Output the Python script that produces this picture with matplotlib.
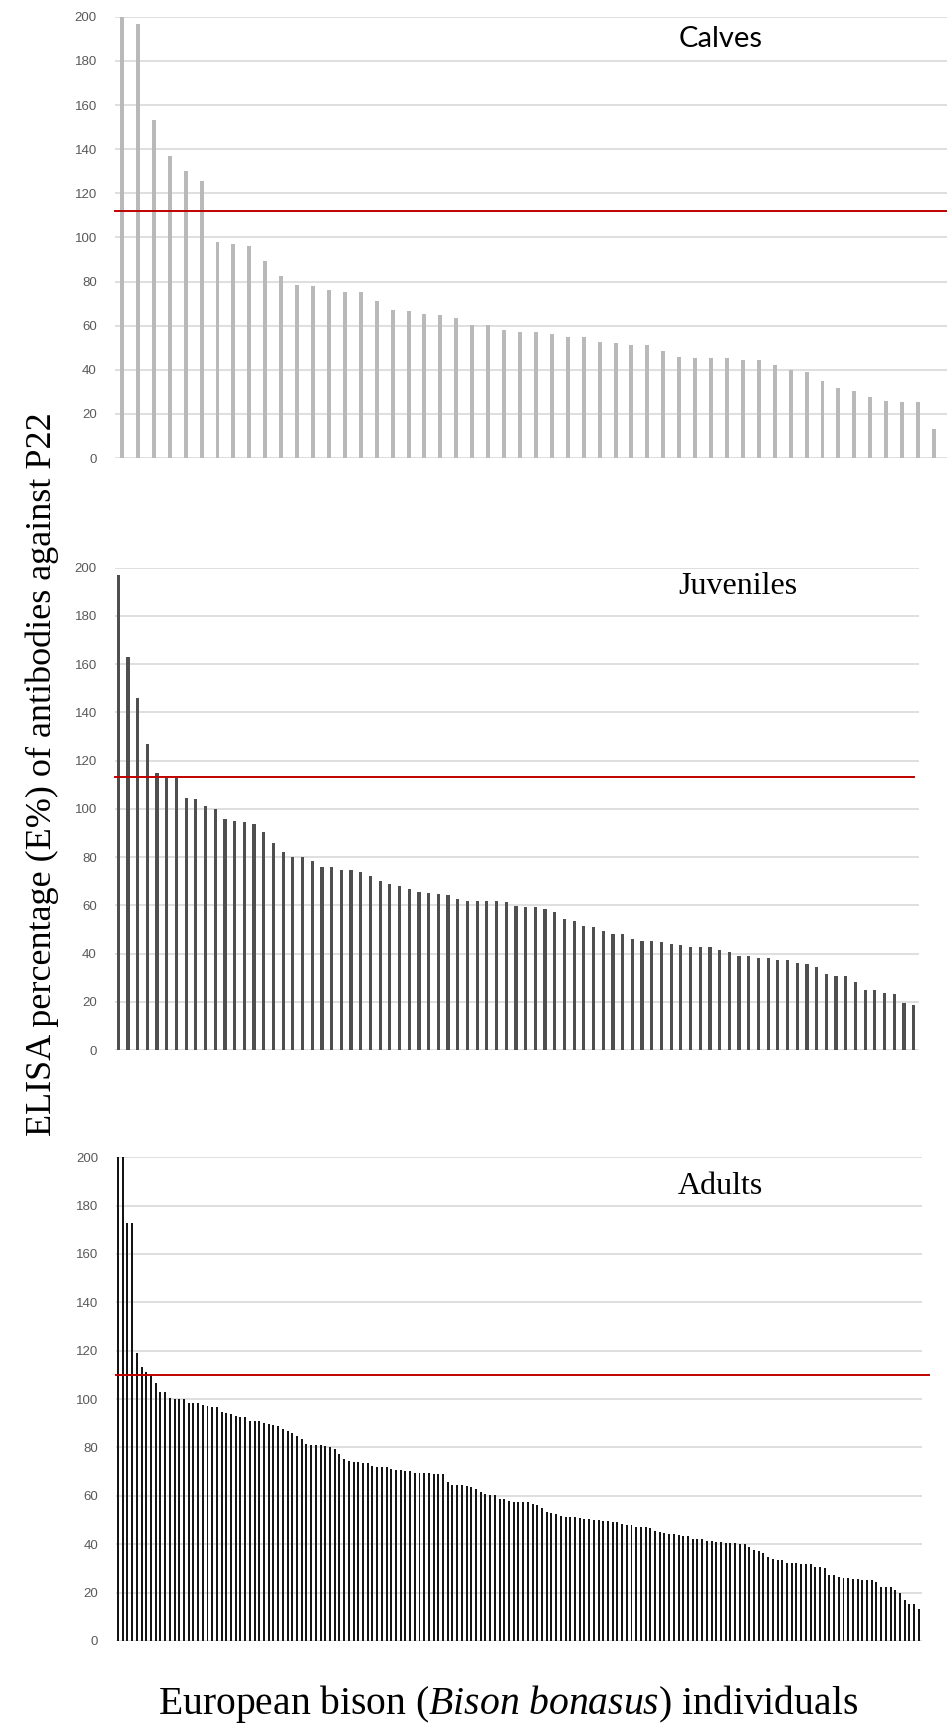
import numpy as np
import matplotlib.pyplot as plt

# ELISA E% values, sorted high to low
calves = [200, 196.5, 153.2, 137, 130, 125.6, 97.8, 96.9, 96.2, 89.2,
          82.6, 78.6, 78, 76, 75.3, 75.3, 71.1, 67.3, 66.7, 65.5,
          64.8, 63.5, 60.1, 60.1, 57.9, 57.3, 57.3, 56, 54.8, 54.8,
          52.8, 52.1, 51, 51, 48.3, 45.9, 45.3, 45.3, 45.3, 44.5,
          44.5, 42.1, 40, 38.9, 34.7, 31.7, 30.2, 27.8, 25.8, 25.4,
          25.4, 13.3]

juveniles = [197, 163, 146, 126.9, 114.7, 112.8, 112.8, 104.6, 104.1, 101.2,
             100.1, 95.6, 95, 94.4, 93.8, 90.4, 86, 82, 80.2, 79.9,
             78.5, 75.9, 75.9, 74.6, 74.6, 73.8, 72.3, 70.1, 69, 67.9,
             66.8, 65.7, 65.1, 64.5, 64.4, 62.8, 61.6, 61.6, 61.6, 61.6,
             61.5, 59.7, 59.4, 59.4, 58.3, 57.1, 54.2, 53.6, 51.4, 50.9,
             49.2, 48.2, 48.1, 45.9, 45.3, 45.3, 44.6, 44.1, 43.5, 42.6,
             42.6, 42.6, 41.3, 40.6, 39.1, 39, 38.1, 38, 37.5, 37.3,
             36.1, 35.7, 34.4, 31.7, 30.7, 30.6, 28.3, 25, 25, 23.8,
             23.2, 19.4, 18.8]

adults = [200, 200, 172.7, 172.7, 119, 113.2, 111.1, 110, 106.8, 102.8,
          102.8, 100.6, 100.1, 100, 100, 98.3, 98.3, 98.3, 97.7, 97.2,
          96.6, 96.6, 94.6, 94.3, 93.8, 93.2, 92.8, 92.8, 91, 91,
          91, 90.3, 89.8, 89.2, 89, 87.7, 86.8, 86.1, 84.8, 83.4,
          81.6, 80.9, 80.9, 80.9, 80.6, 80, 79.3, 77.1, 75.3, 74.6,
          74.2, 74.2, 73.7, 73.6, 72.4, 71.8, 71.8, 71.8, 71.1, 70.7,
          70.6, 70.4, 70.4, 69.6, 69.6, 69.6, 69.6, 68.9, 69.1, 69.1,
          65.6, 64.5, 64.4, 64.4, 63.9, 63.8, 62.9, 61.6, 60.9, 60.5,
          60.4, 58.9, 58.7, 58, 57.5, 57.5, 57.5, 57.5, 56.8, 56.4,
          55, 53.5, 52.8, 52.6, 51.8, 51.2, 51.2, 51.2, 50.9, 50.6,
          50.6, 49.9, 50.2, 49.6, 49.6, 49.4, 49.4, 48.5, 48, 48,
          47.3, 47.3, 47.3, 46.9, 45.5, 45.1, 44.7, 44.4, 44.4, 43.7,
          43.2, 43.2, 42.3, 42.3, 42.3, 41.4, 41.3, 41.1, 40.8, 40.6,
          40.4, 40.4, 40.3, 40.3, 38.9, 37.6, 37.1, 36.3, 34.9, 33.8,
          33.6, 33.6, 32.4, 32.4, 32.4, 32, 32, 32, 30.7, 30.7,
          30.1, 27.4, 27.2, 26.6, 26.1, 26.1, 25.8, 25.5, 25.2, 25.1,
          25.1, 24.4, 22.5, 22.2, 22.2, 21.1, 19.7, 17, 15.2, 15.1,
          13.4]

groups = ["Calves", "Juveniles", "Adults"]
cutoffs = [112, 113, 110]
yticks = list(range(0, 201, 20))

plt.rcParams['font.family'] = ['Liberation Serif', 'DejaVu Serif']
plt.rcParams['mathtext.fontset'] = 'custom'
plt.rcParams['mathtext.rm'] = 'Liberation Serif'
plt.rcParams['mathtext.it'] = 'Liberation Serif:italic'

fig = plt.figure(figsize=(9.47, 17.29), dpi=100)

boxes = [[0.1214, 0.7351, 0.8786, 0.2552],
         [0.1214, 0.3927, 0.8490, 0.2790],
         [0.1225, 0.0509, 0.8508, 0.2798]]
colors = ['#b9b9b9', '#4f4f4f', '#151515']
widths = [0.25, 0.33, 0.42]
xlims = [(-0.44, 51.82), (-0.34, 82.55), (-0.42, 170.6)]
red_end = [1.0, 0.994, 1.009]
title_pos = [(0.728, 0.949), (0.775, 0.96), (0.750, 0.939)]
title_font = [dict(family='Lato', size=21), dict(family='Liberation Serif', size=23),
              dict(family='Liberation Serif', size=23)]


def draw_panel(ax, values, i):
    x = np.arange(len(values))
    ax.bar(x, values, width=widths[i], color=colors[i], zorder=2)
    ax.set_xlim(*xlims[i])
    ax.set_ylim(0, 200)
    ax.set_yticks(yticks)
    ax.set_xticks([])
    ax.grid(axis='y', color='#d9d9d9', linewidth=1.2, zorder=0)
    for s in ax.spines.values():
        s.set_visible(False)
    ax.tick_params(axis='y', length=0, pad=13, labelsize=9.5, labelcolor='#595959')
    for lab in ax.get_yticklabels():
        lab.set_family('Liberation Sans')
    ax.axhline(cutoffs[i], xmin=0, xmax=red_end[i], color='#c00000',
               linewidth=1.4, zorder=3, clip_on=False)
    ax.text(title_pos[i][0], title_pos[i][1], groups[i], transform=ax.transAxes,
            ha='center', va='center', color='black', **title_font[i])


for i, vals in enumerate([calves, juveniles, adults]):
    ax = fig.add_axes(boxes[i])
    draw_panel(ax, vals, i)

fig.text(0.0444, 1 - 774 / 1729, 'ELISA percentage (E%) of antibodies against P22',
         rotation=90, ha='center', va='center', fontsize=26)
fig.text(0.5365, 1 - 1704 / 1729, r'European bison ($Bison\ bonasus$) individuals',
         ha='center', va='center', fontsize=28.5)

fig.savefig('out.png', dpi=100)
